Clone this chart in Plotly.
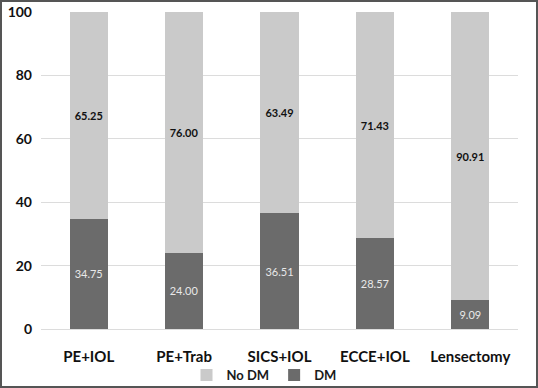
import plotly.graph_objects as go

categories = ["PE+IOL", "PE+Trab", "SICS+IOL", "ECCE+IOL", "Lensectomy"]
dm = [34.75, 24.00, 36.51, 28.57, 9.09]
no_dm = [65.25, 76.00, 63.49, 71.43, 90.91]
y_ticks = [0, 20, 40, 60, 80, 100]

W, H = 538, 388
ml, mr, mt, mb = 41, 20, 12, 59
pw, ph = W - ml - mr, H - mt - mb

fig = go.Figure()
fig.add_trace(go.Bar(
    x=categories, y=dm, name="<b>DM</b>",
    marker=dict(color="#6b6b6b", line=dict(width=0)),
    text=[f"{v:.2f}" for v in dm], textposition="inside", insidetextanchor="middle",
    textfont=dict(family="Lato, sans-serif", size=11, color="#e8e8e8"),
    width=0.4,
))
fig.add_trace(go.Bar(
    x=categories, y=no_dm, name="<b>No DM</b>",
    marker=dict(color="#cacaca", line=dict(width=0)),
    text=[f"<b>{v:.2f}</b>" for v in no_dm], textposition="inside", insidetextanchor="middle",
    textfont=dict(family="Lato, sans-serif", size=11, color="#111111"),
    width=0.4,
))

fig.update_layout(
    barmode="stack",
    width=W, height=H,
    margin=dict(l=ml, r=mr, t=mt, b=mb, autoexpand=False),
    paper_bgcolor="white", plot_bgcolor="white",
    showlegend=True,
    legend=dict(orientation="h", x=264 / W, xref="container", xanchor="center",
                y=(H - 375) / H, yref="container", yanchor="middle",
                traceorder="reversed", bgcolor="rgba(0,0,0,0)",
                font=dict(family="Lato, sans-serif", size=13, color="#1a1a1a", weight="bold"),
                itemwidth=30, tracegroupgap=0),
    xaxis=dict(
        tickfont=dict(family="Lato, sans-serif", size=15, color="#111111", weight="bold"),
        showgrid=False, zeroline=False, showline=False, automargin=False,
        ticks="", ticklabelstandoff=17,
    ),
    yaxis=dict(
        range=[0, 100], tickvals=y_ticks, automargin=False,
        tickfont=dict(family="Lato, sans-serif", size=14, color="#111111", weight="bold"),
        showgrid=True, gridcolor="#dcdcdc", gridwidth=1,
        zeroline=True, zerolinecolor="#dcdcdc", zerolinewidth=1,
        showline=False, ticks="", ticklabelstandoff=8,
    ),
    shapes=[dict(
        type="rect", xref="paper", yref="paper",
        x0=(1 - ml) / pw, x1=(W - 1 - ml) / pw,
        y0=-(mb - 1) / ph, y1=1 + (mt - 1) / ph,
        line=dict(color="#555555", width=2), layer="above",
    )],
)

fig.write_html("out.html", config={"displayModeBar": False},
               post_script="document.body.style.margin='0';")
